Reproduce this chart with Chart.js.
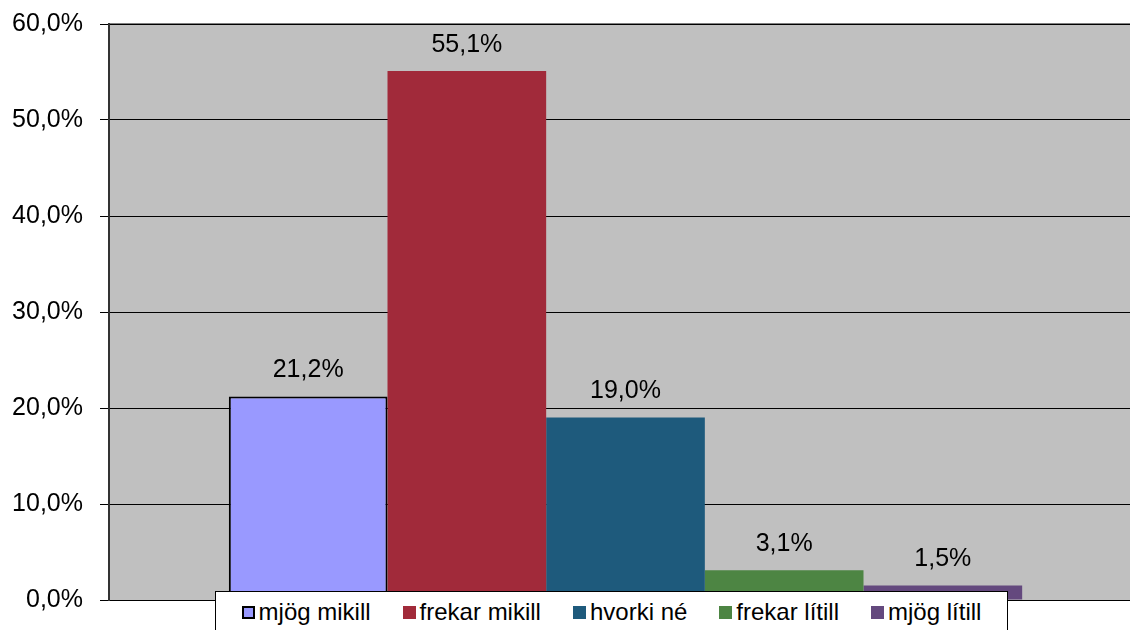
<!DOCTYPE html>
<html>
<head>
<meta charset="utf-8">
<script src="https://cdn.jsdelivr.net/npm/chart.js@4.4.1/dist/chart.umd.min.js"></script>
<style>
  html, body { margin: 0; padding: 0; background: #fff; overflow: hidden; }
  #wrap { position: relative; width: 1142px; height: 630px; }
  #legend {
    position: absolute; left: 215px; top: 591px; width: 793px; height: 50px;
    background: #fff; border: 1px solid #000; box-sizing: border-box;
    display: flex; justify-content: center; gap: 32px; padding-top: 7px;
    font-family: 'Liberation Sans', Arial, sans-serif; font-size: 24px; color: #000;
  }
  #legend .item { display: flex; align-items: center; height: 26px; }
  #legend .box { width: 13px; height: 13px; margin-right: 4px; box-sizing: border-box; }
</style>
</head>
<body>
<div id="wrap">
  <canvas id="chart"></canvas>
  <div id="legend"></div>
</div>
<script>
// data
const seriesNames = ['mjög mikill', 'frekar mikill', 'hvorki né', 'frekar lítill', 'mjög lítill'];
const seriesValues = [21.2, 55.1, 19.0, 3.1, 1.5];
const seriesColors = ['#9999FF', '#A12A3A', '#1E5A7C', '#4D8543', '#64497E'];
const yTicks = [0, 10, 20, 30, 40, 50, 60];

const fmt = v => v.toFixed(1).replace('.', ',') + '%';

// gray plot background + top border
const plotBg = {
  id: 'plotBg',
  beforeDraw(chart) {
    const { ctx, chartArea: a } = chart;
    ctx.save();
    ctx.fillStyle = '#C0C0C0';
    ctx.fillRect(a.left, a.top, a.right - a.left, a.bottom - a.top);
    ctx.fillStyle = '#808080';
    ctx.fillRect(a.left, a.top - 1, a.right - a.left, 2);
    ctx.restore();
  }
};

// value labels above bars
const valueLabels = {
  id: 'valueLabels',
  afterDatasetsDraw(chart) {
    const ctx = chart.ctx;
    ctx.save();
    ctx.font = '25px "Liberation Sans", Arial, sans-serif';
    ctx.fillStyle = '#000';
    ctx.textAlign = 'center';
    ctx.textBaseline = 'middle';
    chart.data.datasets.forEach((ds, i) => {
      const bar = chart.getDatasetMeta(i).data[0];
      ctx.fillText(fmt(ds.data[0]), bar.x, bar.y - 26);
    });
    ctx.restore();
  }
};

new Chart(document.getElementById('chart'), {
  type: 'bar',
  data: {
    labels: [''],
    datasets: seriesNames.map((name, i) => ({
      label: name,
      data: [seriesValues[i]],
      backgroundColor: seriesColors[i],
      borderColor: '#000',
      borderWidth: i === 0 ? 2 : 0,
      borderSkipped: false,
      barPercentage: 1,
      categoryPercentage: 0.768
    }))
  },
  options: {
    responsive: true,
    maintainAspectRatio: false,
    animation: false,
    layout: { padding: { top: 24, bottom: 30, left: 0, right: 0 } },
    plugins: { legend: { display: false }, tooltip: { enabled: false } },
    scales: {
      x: { display: false },
      y: {
        min: 0, max: 60,
        afterFit(scale) {
          scale.width = 109;
          scale.paddingTop = 0;
          scale.paddingBottom = 0;
        },
        afterBuildTicks(scale) { scale.ticks = yTicks.map(v => ({ value: v })); },
        ticks: {
          padding: 17,
          color: '#000',
          font: { family: '"Liberation Sans", Arial, sans-serif', size: 25 },
          callback: v => fmt(v)
        },
        grid: { color: '#000', lineWidth: 1, tickLength: 9, tickColor: '#000' },
        border: { color: '#333', width: 2 }
      }
    }
  },
  plugins: [plotBg, valueLabels]
});

// legend
const legend = document.getElementById('legend');
seriesNames.forEach((name, i) => {
  const item = document.createElement('div');
  item.className = 'item';
  const box = document.createElement('span');
  box.className = 'box';
  box.style.background = seriesColors[i];
  if (i === 0) box.style.border = '2px solid #000';
  item.appendChild(box);
  item.appendChild(document.createTextNode(name));
  legend.appendChild(item);
});
</script>
</body>
</html>
